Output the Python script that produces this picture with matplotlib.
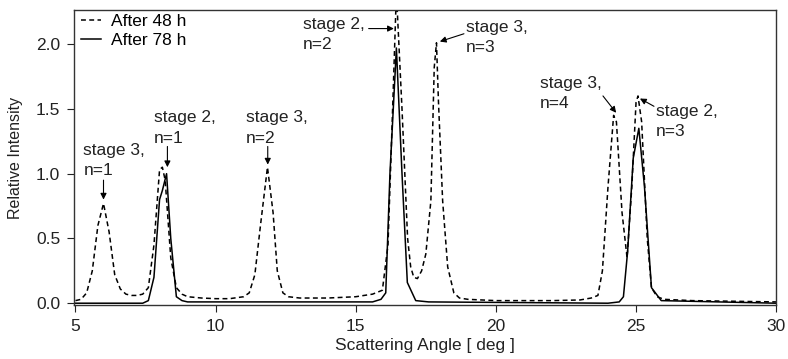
#!/usr/bin/env python

import numpy as np
import matplotlib
matplotlib.use('Agg')
import matplotlib.pyplot as plt

plt.rcParams['font.family'] = ['Liberation Sans', 'DejaVu Sans']

# After 48 h (dashed)
angle_48 = [5.0, 5.2, 5.4, 5.6, 5.8, 6.0, 6.2, 6.4, 6.6, 6.8, 7.0, 7.2, 7.4, 7.6, 7.8,
            8.0, 8.1, 8.2, 8.4, 8.6, 8.8, 9.0, 9.5, 10.0, 10.5, 11.0, 11.2, 11.4, 11.6,
            11.85, 12.05, 12.2, 12.4, 12.6, 13.0, 14.0, 15.0, 15.6, 15.95, 16.15, 16.3,
            16.45, 16.65, 16.85, 16.96, 17.07, 17.2, 17.35, 17.5, 17.68, 17.8, 17.88,
            17.95, 18.1, 18.28, 18.5, 18.7, 19.0, 20.0, 22.0, 23.0, 23.4, 23.64, 23.8,
            24.0, 24.2, 24.3, 24.5, 24.68, 24.85, 25.0, 25.07, 25.2, 25.4, 25.55, 25.75,
            26.0, 27.0, 30.0]
intensity_48 = [0.02, 0.03, 0.08, 0.25, 0.60, 0.77, 0.55, 0.22, 0.11, 0.07, 0.06, 0.06,
                0.07, 0.12, 0.45, 1.03, 1.05, 0.95, 0.35, 0.12, 0.07, 0.05, 0.04, 0.035,
                0.035, 0.05, 0.08, 0.22, 0.6, 1.05, 0.7, 0.25, 0.08, 0.05, 0.04, 0.04,
                0.05, 0.07, 0.10, 0.45, 1.4, 2.4, 1.5, 0.5, 0.28, 0.2, 0.19, 0.25, 0.38,
                0.79, 1.82, 2.01, 1.56, 0.79, 0.28, 0.08, 0.04, 0.03, 0.02, 0.02, 0.025,
                0.04, 0.06, 0.25, 0.9, 1.45, 1.4, 0.7, 0.35, 0.9, 1.55, 1.6, 1.4, 0.5,
                0.12, 0.05, 0.03, 0.02, 0.01]

# After 78 h (solid)
angle_78 = [5.0, 7.4, 7.6, 7.8, 8.0, 8.1, 8.25, 8.4, 8.6, 8.8, 9.0, 15.6, 15.9, 16.07,
            16.22, 16.45, 16.65, 16.84, 17.14, 17.6, 24.0, 24.4, 24.55, 24.7, 24.9, 25.1,
            25.3, 25.55, 25.9, 30.0]
intensity_78 = [0.0, 0.0, 0.02, 0.2, 0.8, 0.87, 1.0, 0.5, 0.05, 0.02, 0.01, 0.01, 0.03,
                0.08, 1.0, 1.97, 1.0, 0.16, 0.02, 0.01, 0.0, 0.01, 0.05, 0.4, 1.12, 1.35,
                0.9, 0.12, 0.02, 0.0]

# annotations: text, text position, arrow start, arrow tip
labels = ['stage 3,\nn=1', 'stage 2,\nn=1', 'stage 3,\nn=2', 'stage 2,\nn=2',
          'stage 3,\nn=3', 'stage 3,\nn=4', 'stage 2,\nn=3']
text_xy = [(5.28, 1.24), (7.79, 1.49), (11.07, 1.49), (13.1, 2.21), (18.93, 2.19),
           (21.57, 1.755), (25.71, 1.54)]
arrow_from = [(6.0, 0.95), (8.28, 1.21), (11.86, 1.21), (15.46, 2.12), (18.86, 2.08),
              (23.82, 1.6), (25.64, 1.52)]
arrow_to = [(6.0, 0.80), (8.28, 1.05), (11.86, 1.07), (16.36, 2.12), (18.0, 2.02),
            (24.29, 1.47), (25.14, 1.58)]

fig, ax = plt.subplots(figsize=(7.88, 3.59), dpi=100)

ax.plot(angle_48, intensity_48, color='k', linestyle=(0, (3.2, 2.2)), lw=1.1, label='After 48 h')
ax.plot(angle_78, intensity_78, color='k', linestyle='-', lw=1.1, label='After 78 h')

for lab, txy, a0, a1 in zip(labels, text_xy, arrow_from, arrow_to):
    ax.text(txy[0], txy[1], lab, fontsize=12.5, ha='left', va='top', linespacing=1.45,
            color='#222222')
    ax.annotate('', xy=a1, xytext=a0,
                arrowprops=dict(arrowstyle='-|>', color='k', lw=0.8,
                                mutation_scale=9, shrinkA=0, shrinkB=0))

ax.set_xlim(4.95, 30)
ax.set_ylim(-0.015, 2.263)
ax.set_xticks([5, 10, 15, 20, 25, 30])
ax.set_yticks([0.0, 0.5, 1.0, 1.5, 2.0])
ax.set_yticklabels(['0.0', '0.5', '1.0', '1.5', '2.0'])
ax.tick_params(direction='out', labelsize=12.5, length=5, width=0.8, pad=5,
               colors='#222222')
ax.set_xlabel('Scattering Angle [ deg ]', fontsize=12.5, labelpad=3, color='#222222')
ax.set_ylabel('Relative Intensity', fontsize=11.5, labelpad=9, color='#222222')
for sp in ax.spines.values():
    sp.set_linewidth(1.0)
    sp.set_color('#333333')

ax.legend(loc='upper left', frameon=False, fontsize=12.5, handlelength=1.15,
          handletextpad=0.6, labelspacing=0.2, borderaxespad=0.0,
          bbox_to_anchor=(0.0, 1.01))

plt.subplots_adjust(left=0.094, right=0.985, top=0.972, bottom=0.150)
plt.savefig('out.png', dpi=100)
